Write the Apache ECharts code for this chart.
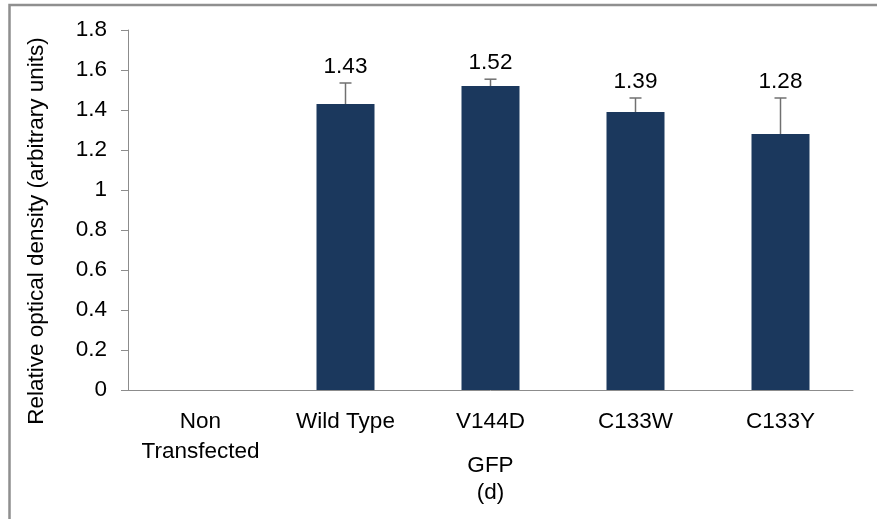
<!DOCTYPE html>
<html>
<head>
<meta charset="utf-8">
<script src="https://cdn.jsdelivr.net/npm/echarts@6/dist/echarts.min.js"></script>
<style>
  html, body { margin: 0; padding: 0; background: #fff; }
  #chart { width: 877px; height: 519px; }
</style>
</head>
<body>
<div id="chart"></div>
<script>
// Relative optical density per GFP construct
const categories = ['Non\nTransfected', 'Wild Type', 'V144D', 'C133W', 'C133Y'];
const densities = [null, 1.43, 1.52, 1.39, 1.28];
const errorsUp = [null, 0.105, 0.034, 0.07, 0.18];
const yTicks = { min: 0, max: 1.8, interval: 0.2 };
const yTitle = 'Relative optical density (arbitrary units)';
const xTitle = ['GFP', '(d)'];

const FONT = '"Liberation Sans", Arial, sans-serif';
const FS = 22.5;
const chart = echarts.init(document.getElementById('chart'), null, { renderer: 'canvas' });

const errData = densities.map((v, i) => v == null ? [i, null, null] : [i, v, v + errorsUp[i]]);

chart.setOption({
  animation: false,
  textStyle: { fontFamily: FONT },
  grid: { left: 128, right: 24, top: 30, bottom: 129, containLabel: false, outerBoundsMode: 'none' },
  graphic: [{
    type: 'polyline',
    shape: { points: [[9.5, 519], [9.5, 5], [877, 5]] },
    style: { stroke: '#8f8f8f', lineWidth: 2.5, fill: null },
    silent: true
  }, {
    type: 'text',
    x: 37, y: 231, rotation: Math.PI / 2,
    style: { text: yTitle, align: 'center', verticalAlign: 'middle', fontSize: FS, fill: '#000', fontFamily: FONT },
    silent: true
  }, {
    type: 'text',
    x: 490.5, y: 466,
    style: { text: xTitle[0], align: 'center', verticalAlign: 'middle', fontSize: FS, fill: '#000', fontFamily: FONT },
    silent: true
  }, {
    type: 'text',
    x: 490.5, y: 493,
    style: { text: xTitle[1], align: 'center', verticalAlign: 'middle', fontSize: FS, fill: '#000', fontFamily: FONT },
    silent: true
  }],
  xAxis: {
    type: 'category',
    data: categories,
    axisLine: { lineStyle: { color: '#8c8c8c', width: 1 } },
    axisTick: { show: false },
    axisLabel: { fontSize: FS, color: '#000', margin: 17, lineHeight: 30, fontFamily: FONT, interval: 0 }
  },
  yAxis: {
    type: 'value',
    min: yTicks.min,
    max: yTicks.max,
    interval: yTicks.interval,
    axisLine: { show: true, lineStyle: { color: '#8c8c8c', width: 1 } },
    axisTick: { show: true, length: 7, lineStyle: { color: '#8c8c8c' } },
    splitLine: { show: false },
    axisLabel: {
      fontSize: FS, color: '#000', margin: 21, fontFamily: FONT,
      formatter: v => String(Math.round(v * 10) / 10)
    }
  },
  series: [{
    type: 'bar',
    data: densities,
    barWidth: 58,
    itemStyle: { color: '#1b385d' }
  }, {
    type: 'custom',
    data: errData,
    z: 5,
    renderItem: (params, api) => {
      const lo = api.value(1);
      if (lo == null || isNaN(lo)) return null;
      const hi = api.value(2);
      const i = api.value(0);
      const pLo = api.coord([i, lo]);
      const pHi = api.coord([i, hi]);
      const x = pLo[0];
      const stroke = { stroke: '#707070', lineWidth: 1.5 };
      return {
        type: 'group',
        children: [
          { type: 'line', shape: { x1: x, y1: pLo[1], x2: x, y2: pHi[1] }, style: stroke },
          { type: 'line', shape: { x1: x - 6, y1: pHi[1], x2: x + 6, y2: pHi[1] }, style: stroke },
          {
            type: 'text',
            style: {
              text: densities[i].toFixed(2), x: x, y: pHi[1] - 16,
              align: 'center', verticalAlign: 'middle',
              fontSize: FS, fill: '#000', fontFamily: FONT
            }
          }
        ]
      };
    }
  }]
});
</script>
</body>
</html>
